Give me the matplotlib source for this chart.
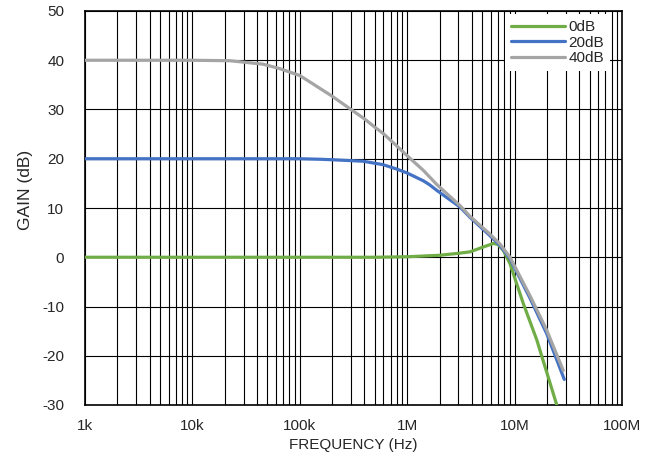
import matplotlib
matplotlib.use("Agg")
import matplotlib.pyplot as plt
from matplotlib.ticker import FixedLocator, LogLocator, NullFormatter

plt.rcParams['font.family'] = ['Liberation Sans', 'DejaVu Sans']
plt.rcParams['axes.unicode_minus'] = False

# Data (frequency in Hz, gain in dB)
freq_0db = [1e3, 1e4, 1e5, 5e5, 1e6, 2e6, 3e6, 3.85e6, 5e6, 6.33e6, 7.0e6, 7.85e6, 9.06e6, 12.05e6, 16.1e6, 24.7e6]
gain_0db = [0.0, 0.0, 0.0, 0.0, 0.1, 0.4, 0.8, 1.1, 2.0, 2.8, 2.6, 1.4, -1.3, -9.4, -16.8, -30.0]

freq_20db = [1e3, 1e4, 1e5, 1.53e5, 2e5, 3.88e5, 5.95e5, 8e5, 1e6, 1.42e6, 1.62e6, 1.88e6, 3.1e6, 3.85e6, 5.69e6, 7.31e6, 9.06e6, 13.9e6, 19.9e6, 29e6]
gain_20db = [20.0, 20.0, 20.0, 19.9, 19.8, 19.5, 18.8, 17.9, 17.1, 15.5, 14.7, 13.6, 10.2, 8.1, 4.7, 2.4, -0.3, -8.3, -15.5, -24.8]

freq_40db = [1e3, 1e4, 2.24e4, 4.56e4, 6.5e4, 1e5, 2e5, 3e5, 4e5, 5e5, 6e5, 8e5, 1e6, 1.42e6, 1.88e6, 3.1e6, 3.85e6, 5.69e6, 7.31e6, 9.06e6, 13.9e6, 19.9e6, 28.4e6]
gain_40db = [40.0, 40.0, 39.9, 39.2, 38.3, 36.9, 32.7, 30.0, 28.1, 26.4, 25.1, 22.6, 20.6, 17.6, 14.8, 10.5, 8.3, 5.0, 2.7, 0.0, -7.8, -14.8, -23.0]

series_labels = ['0dB', '20dB', '40dB']
series_colors = ['#70AD47', '#4472C4', '#A5A5A5']

x_ticks = [1e3, 1e4, 1e5, 1e6, 1e7, 1e8]
x_ticklabels = ['1k', '10k', '100k', '1M', '10M', '100M']
y_ticks = [-30, -20, -10, 0, 10, 20, 30, 40, 50]

fig = plt.figure(figsize=(6.55, 4.66), dpi=100)
ax = fig.add_axes([85/655, 1-405/466, (622-85)/655, (405-11)/466])

ax.set_xscale('log')
ax.set_xlim(1e3, 1e8)
ax.set_ylim(-30, 50)

ax.xaxis.set_major_locator(FixedLocator(x_ticks))
ax.set_xticklabels(x_ticklabels)
ax.xaxis.set_minor_locator(LogLocator(base=10, subs=range(2, 10), numticks=100))
ax.xaxis.set_minor_formatter(NullFormatter())
ax.set_yticks(y_ticks)

ax.grid(True, which='major', color='black', linewidth=0.8)
ax.grid(True, which='minor', axis='x', color='black', linewidth=0.8)
ax.set_axisbelow(True)

ax.tick_params(which='both', length=0, labelsize=11, labelcolor='#262626')
ax.tick_params(axis='y', pad=15)
ax.tick_params(axis='x', pad=10)

for s in ax.spines.values():
    s.set_linewidth(1.2)
    s.set_color('black')

for f, g, lab, col in zip([freq_0db, freq_20db, freq_40db],
                          [gain_0db, gain_20db, gain_40db],
                          series_labels, series_colors):
    ax.plot(f, g, color=col, linewidth=2.3, label=lab, solid_capstyle='round', zorder=3)

ax.set_xlabel('FREQUENCY (Hz)', fontsize=11, labelpad=4, color='#262626')
ax.set_ylabel('GAIN (dB)', fontsize=12.5, color='#262626')
ax.yaxis.set_label_coords(-0.097, 0.546)

leg = ax.legend(loc='upper right', bbox_to_anchor=(0.978, 0.992), borderaxespad=0,
                frameon=True, fancybox=False, fontsize=11, handlelength=3.5,
                handletextpad=0.25, labelspacing=0.1, borderpad=0.4)
leg.get_frame().set_facecolor('white')
leg.get_frame().set_edgecolor('none')
leg.get_frame().set_alpha(1)
leg.set_zorder(5)
for t in leg.get_texts():
    t.set_color('#262626')

fig.savefig('out.png', dpi=100)
